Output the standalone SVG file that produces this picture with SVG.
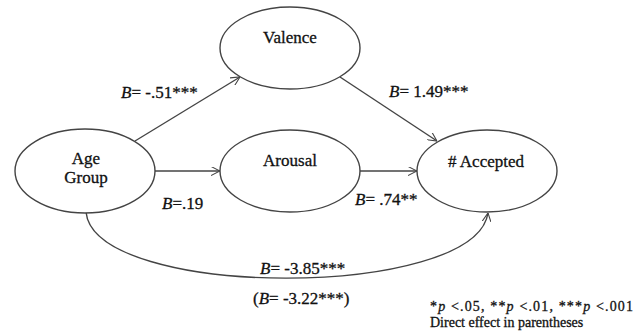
<svg xmlns="http://www.w3.org/2000/svg" width="634" height="335" viewBox="0 0 634 335">
<defs>
<marker id="arr" viewBox="0 0 10 10" refX="10" refY="5" markerWidth="9" markerHeight="9" markerUnits="userSpaceOnUse" orient="auto">
<path d="M0,0 L10,5 L0,10" fill="none" stroke="#444" stroke-width="1.2"/>
</marker>
<style>
.node ellipse{fill:#fff;stroke:#444;stroke-width:1.4}
.c{text-anchor:middle}
.edge{fill:none;stroke:#444;stroke-width:1.4;marker-end:url(#arr)}
.leg{font-size:14px}
</style>
</defs>
<rect width="634" height="335" fill="#fff"/>
<g id="connectors">
<line class="edge" x1="135" y1="141" x2="240" y2="77"/>
<line class="edge" x1="340" y1="77" x2="437" y2="141"/>
<line class="edge" x1="155" y1="171" x2="220" y2="171"/>
<line class="edge" x1="360" y1="171" x2="417" y2="171"/>
<path class="edge" d="M86,212 C95,300 475,300 488,213"/>
</g>
<g font-family="Liberation Serif, Times New Roman, DejaVu Serif, serif" font-size="17" fill="#111" stroke="#111" stroke-width="0.3">
<g id="age" class="node"><ellipse cx="85" cy="171" rx="70" ry="42"/><text class="c" x="86" y="164">Age</text><text class="c" x="86" y="183">Group</text></g>
<g id="valence" class="node"><ellipse cx="290" cy="48" rx="70" ry="41"/><text class="c" x="290" y="43">Valence</text></g>
<g id="arousal" class="node"><ellipse cx="290" cy="171" rx="70" ry="41"/><text class="c" x="290" y="166">Arousal</text></g>
<g id="accepted" class="node"><ellipse cx="487" cy="171" rx="70" ry="41"/><text class="c" x="486" y="167"># Accepted</text></g>
<g id="labels">
<text x="121" y="98"><tspan font-style="italic">B</tspan>= -.51***</text>
<text x="389" y="97"><tspan font-style="italic">B</tspan>= 1.49***</text>
<text x="162" y="209"><tspan font-style="italic">B</tspan>=.19</text>
<text x="355" y="205"><tspan font-style="italic">B</tspan>= .74**</text>
<text x="260" y="274"><tspan font-style="italic">B</tspan>= -3.85***</text>
<text x="253" y="304">(<tspan font-style="italic">B</tspan>= -3.22***)</text>
<text class="leg" x="430" y="311" textLength="203" lengthAdjust="spacing">*<tspan font-style="italic">p</tspan> &lt;.05, **<tspan font-style="italic">p</tspan> &lt;.01, ***<tspan font-style="italic">p</tspan> &lt;.001</text>
<text class="leg" x="430" y="327">Direct effect in parentheses</text>
</g>
</g>
</svg>
